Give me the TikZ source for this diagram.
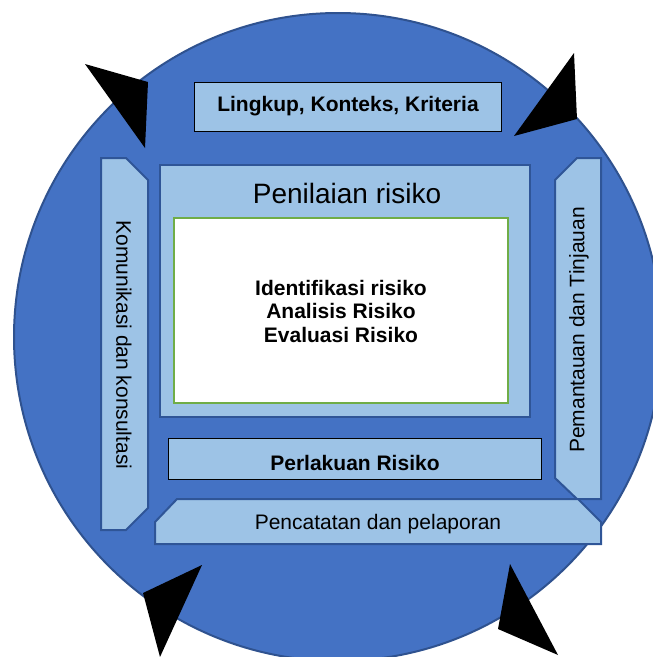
\documentclass[tikz,border=0pt]{standalone}
\usepackage{fontspec}
\setmainfont{Liberation Sans}
\definecolor{circblue}{HTML}{4472C4}
\definecolor{circedge}{HTML}{2F528F}
\definecolor{lightblue}{HTML}{9DC3E6}
\definecolor{paneledge}{HTML}{2F5597}
\definecolor{boxgreen}{HTML}{70AD47}
\begin{document}
\begin{tikzpicture}[x=1pt,y=-1pt,
  panel/.style={fill=lightblue,draw=paneledge,line width=2pt,line join=miter},
  blackbox/.style={fill=lightblue,draw=black,line width=0.9pt},
  lbl/.style={font=\fontsize{21}{24}\selectfont,inner sep=0pt},
  blbl/.style={font=\fontsize{21}{24}\selectfont\bfseries,inner sep=0pt},
  tip/.style={fill=black,draw=none}]
\useasboundingbox (0,0) rectangle (653,657);
\begin{scope}
  \clip (0,0) rectangle (653,657);
  \fill[circblue] (338,337) circle (324);
  \draw[circedge,line width=2pt] (338,337) circle (324);
\end{scope}
% top box
\draw[blackbox] (194,82) rectangle (501,131);
\node[blbl] (lingkup) at (348,106.5) {Lingkup, Konteks, Kriteria};
% Penilaian risiko
\draw[panel] (160,165) rectangle (530,417);
\node[font=\fontsize{28}{32}\selectfont,inner sep=0pt] (penilaian) at (347,193) {Penilaian risiko};
\draw[fill=white,draw=boxgreen,line width=1.5pt] (174,218) rectangle (508,403);
\node[inner sep=0pt,align=center,font=\fontsize{21}{23.5}\selectfont\bfseries] (steps) at (341,311) {Identifikasi risiko\\Analisis Risiko\\Evaluasi Risiko};
% left panel
\draw[panel] (101,158) -- (126,158) -- (148,180) -- (148,508) -- (126,530) -- (101,530) -- cycle;
\node[lbl,rotate=-90] (komunikasi) at (124,345) {Komunikasi dan konsultasi};
% right panel
\draw[panel] (555,180) -- (577,158) -- (601,158) -- (601,499) -- (577,499) -- (555,478) -- cycle;
\node[lbl,rotate=90] (pemantauan) at (579,330) {Pemantauan dan Tinjauan};
% bottom panel
\draw[panel] (155,522) -- (177,499) -- (578,499) -- (601,522) -- (601,544) -- (155,544) -- cycle;
\node[lbl] (pencatatan) at (378,524) {Pencatatan dan pelaporan};
% Perlakuan
\draw[blackbox] (168,438) rectangle (541,479);
\node[blbl] (perlakuan) at (355,463) {Perlakuan Risiko};
% arrow tips
\fill[tip] (85,64) -- (148,82) -- (145,148) -- cycle;
\fill[tip] (574,53) -- (577,119) -- (514,136) -- cycle;
\fill[tip] (143,593) -- (202,565) -- (160,657) -- cycle;
\fill[tip] (510,564) -- (498,629) -- (558,655) -- cycle;
\end{tikzpicture}
\end{document}
